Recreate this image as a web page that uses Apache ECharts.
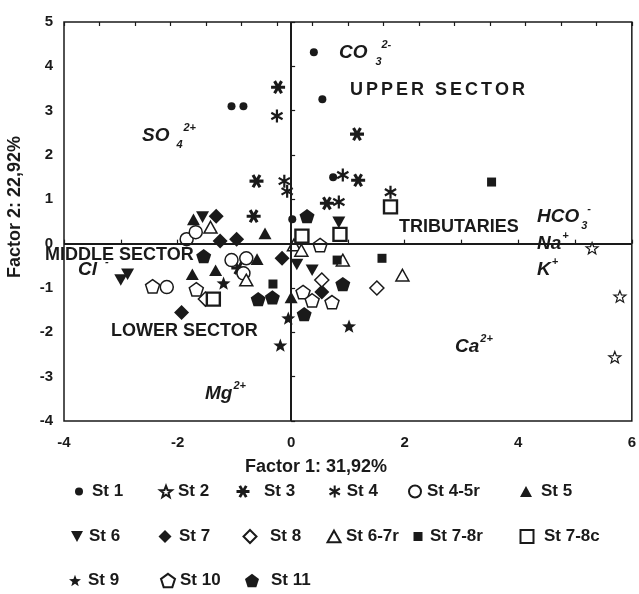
<!DOCTYPE html>
<html>
<head>
<meta charset="utf-8">
<script src="https://cdn.jsdelivr.net/npm/echarts@6/dist/echarts.min.js"></script>
<style>
  html, body { margin: 0; padding: 0; background: #fff; }
  #chart { width: 639px; height: 594px; }
</style>
</head>
<body>
<div id="chart"></div>
<script>
// factor scores: [factor 1, factor 2]
const st1 = [[0.40, 4.32], [0.55, 3.26], [-1.05, 3.10], [-0.84, 3.10], [0.74, 1.50], [0.02, 0.55]]
const st2 = [[5.30, -0.10], [5.79, -1.19], [5.70, -2.56]]
const st3 = [[-0.23, 3.53], [-0.61, 1.41], [1.16, 2.47], [1.18, 1.43], [0.63, 0.91], [-0.66, 0.62], [-0.93, -0.55]]
const st4 = [[-0.25, 2.88], [-0.12, 1.41], [-0.07, 1.18], [0.91, 1.55], [0.84, 0.94], [1.75, 1.16]]
const st45r = [[-1.84, 0.10], [-1.68, 0.26], [-1.05, -0.37], [-0.79, -0.33], [-0.84, -0.67], [-2.19, -0.98]]
const st5 = [[-1.72, 0.55], [-0.46, 0.23], [-0.60, -0.35], [-1.74, -0.69], [-1.33, -0.60], [0.0, -1.21]]
const st6 = [[-1.56, 0.60], [-3.00, -0.82], [-2.88, -0.69], [0.10, -0.47], [0.84, 0.48], [0.37, -0.60]]
const st7 = [[-1.32, 0.62], [-1.25, 0.06], [-0.96, 0.10], [-0.16, -0.33], [-1.93, -1.55], [0.54, -1.09]]
const st8 = [[-1.51, -1.25], [0.54, -0.82], [1.51, -1.00]]
const st67r = [[-1.42, 0.37], [-0.79, -0.82], [0.05, -0.03], [0.18, -0.15], [0.91, -0.37], [1.96, -0.71]]
const st78r = [[3.53, 1.39], [1.60, -0.33], [0.81, -0.37], [-0.32, -0.91]]
const st78c = [[1.75, 0.83], [0.19, 0.17], [0.86, 0.21], [-1.37, -1.25]]
const st9 = [[-1.19, -0.89], [-0.05, -1.68], [1.02, -1.86], [-0.19, -2.29]]
const st10 = [[-2.44, -0.96], [-1.67, -1.03], [0.51, -0.03], [0.21, -1.09], [0.37, -1.28], [0.72, -1.32]]
const st11 = [[-1.54, -0.28], [-0.58, -1.25], [-0.33, -1.21], [0.28, 0.62], [0.91, -0.91], [0.23, -1.59]]

const xTickLabels = [-4, -2, 0, 2, 4, 6]

const FONT = '"Liberation Sans", Arial, sans-serif'
const INK = '#1a1a1a'

// --- marker shapes ---
const toPath = pts => 'M' + pts.map(p => p[0].toFixed(3) + ',' + p[1].toFixed(3)).join('L') + 'Z'
const polygon = (n, r0, r1) => {
  const pts = []
  const k = r1 == null ? n : n * 2
  for (let i = 0; i < k; i++) {
    const a = -Math.PI / 2 + (i * 2 * Math.PI) / k
    const r = r1 == null || i % 2 === 0 ? r0 : r1
    pts.push([r * Math.cos(a), r * Math.sin(a)])
  }
  return 'path://' + toPath(pts)
}
const asterisk = (angles, t) => {
  const parts = angles.map(deg => {
    const a = (deg * Math.PI) / 180
    const dx = Math.cos(a), dy = Math.sin(a)
    const nx = -Math.sin(a) * t, ny = Math.cos(a) * t
    return toPath([[dx + nx, dy + ny], [dx - nx, dy - ny], [-dx - nx, -dy - ny], [-dx + nx, -dy + ny]])
  })
  return 'path://' + parts.join(' ')
}
const STAR = polygon(5, 1, 0.42)
const PENTAGON = polygon(5, 1)
const TRI_UP = 'path://M1,0L2,1.8L0,1.8Z'
const TRI_DOWN = 'path://M0,0L2,0L1,1.8Z'
const AST_H = asterisk([0, 60, 120], 0.22)
const AST_V = asterisk([90, 30, 150], 0.17)

// size: marker on the plot, leg: icon in the legend
const stations = [
  { name: 'St 1', data: st1, symbol: 'circle', size: 8, leg: 8, filled: true },
  { name: 'St 2', data: st2, symbol: STAR, size: 12, leg: 12, filled: false, bw: 1.2 },
  { name: 'St 3', data: st3, symbol: AST_H, size: 14, leg: 13, filled: true },
  { name: 'St 4', data: st4, symbol: AST_V, size: 13, leg: 12, filled: true },
  { name: 'St 4-5r', data: st45r, symbol: 'circle', size: 13, leg: 12, filled: false, bw: 1.5 },
  { name: 'St 5', data: st5, symbol: TRI_UP, size: 13, leg: 12, filled: true },
  { name: 'St 6', data: st6, symbol: TRI_DOWN, size: 13, leg: 12, filled: true },
  { name: 'St 7', data: st7, symbol: 'diamond', size: 15, leg: 13, filled: true },
  { name: 'St 8', data: st8, symbol: 'diamond', size: 14, leg: 13, filled: false, bw: 1.5 },
  { name: 'St 6-7r', data: st67r, symbol: TRI_UP, size: 13, leg: 13, filled: false, bw: 1.5 },
  { name: 'St 7-8r', data: st78r, symbol: 'rect', size: 9, leg: 9, filled: true },
  { name: 'St 7-8c', data: st78c, symbol: 'rect', size: 13, leg: 13, filled: false, bw: 2.4 },
  { name: 'St 9', data: st9, symbol: STAR, size: 14, leg: 12, filled: true },
  { name: 'St 10', data: st10, symbol: PENTAGON, size: 14, leg: 14, filled: false, bw: 1.5 },
  { name: 'St 11', data: st11, symbol: PENTAGON, size: 15, leg: 14, filled: true },
]

// legend layout: [icon centre x, text start x, row centre y]
const legendLayout = [
  [79, 92, 493], [165, 177, 493], [243, 264, 493], [335, 347, 493], [414, 426, 493], [526, 541, 493],
  [77, 89, 538], [165, 179, 538], [249, 269, 538], [333, 345, 538], [418, 430, 538], [526, 543, 538],
  [75, 88, 582], [167, 179, 582], [252, 271, 582],
]

// --- text annotations ---
const measure = document.createElement('canvas').getContext('2d')
const txt = (text, x, y, size, opts = {}) => ({
  type: 'text',
  x, y,
  rotation: opts.rotation || 0,
  style: {
    text,
    font: `${opts.italic ? 'italic ' : ''}bold ${size}px ${FONT}`,
    fill: INK,
    align: opts.align || 'left',
    textAlign: opts.align || 'left',
    verticalAlign: 'middle',
    textVerticalAlign: 'middle',
  },
})
const spaced = (str, x, y, size, gap) => {
  const font = `bold ${size}px ${FONT}`
  measure.font = font
  let cx = x
  return str.split('').map(ch => {
    const el = txt(ch, cx, y, size)
    cx += measure.measureText(ch).width + gap
    return el
  })
}
const ion = (main, x, y, sub, sup, offs) => {
  measure.font = `italic bold 19px ${FONT}`
  const w = measure.measureText(main).width
  const out = [txt(main, x, y, 19, { italic: true })]
  if (sub) out.push(txt(sub, x + w + offs[0], y + 9, 11, { italic: true }))
  if (sup) out.push(txt(sup, x + w + offs[1], y - 8, 11, { italic: true }))
  return out
}

const annotations = [
  ...ion('CO', 339, 53, '3', '2-', [8, 14]),
  ...spaced('UPPER SECTOR', 350, 90, 18, 3),
  ...ion('SO', 142, 136, '4', '2+', [7, 14]),
  ...ion('HCO', 537, 217, '3', '-', [2, 8]),
  ...ion('Na', 537, 244, null, '+', [0, 1]),
  ...ion('K', 537, 270, null, '+', [0, 1]),
  txt('TRIBUTARIES', 399, 227, 18),
  txt('MIDDLE SECTOR', 45, 255, 18),
  ...ion('Cl', 78, 270, null, '-', [0, 8]),
  txt('LOWER SECTOR', 111, 331, 18),
  ...ion('Ca', 455, 347, null, '2+', [1, 1]),
  ...ion('Mg', 205, 394, null, '2+', [1, 1]),
  txt('Factor 1: 31,92%', 316, 467, 18, { align: 'center' }),
  txt('Factor 2: 22,92%', 15, 207, 18, { align: 'center', rotation: Math.PI / 2 }),
]

const chart = echarts.init(document.getElementById('chart'), null, { renderer: 'canvas' })

const series = [
  {
    // cross lines through the origin
    type: 'scatter',
    data: [],
    silent: true,
    z: 1,
    markLine: {
      silent: true,
      symbol: 'none',
      label: { show: false },
      lineStyle: { color: INK, width: 2, type: 'solid' },
      data: [{ yAxis: 0 }, { xAxis: 0 }],
    },
  },
  ...stations.map(s => ({
    name: s.name,
    type: 'scatter',
    data: s.data,
    symbol: s.symbol,
    symbolSize: s.size,
    symbolKeepAspect: true,
    z: 3,
    itemStyle: s.filled
      ? { color: INK, opacity: 1 }
      : { color: '#fff', borderColor: INK, borderWidth: s.bw || 1.8, opacity: 1 },
  })),
]

const legends = stations.map((s, i) => {
  const [iconX, textX, rowY] = legendLayout[i]
  const w = s.leg
  return {
    data: [s.name],
    left: iconX - w / 2,
    top: rowY - 10,
    itemWidth: w,
    itemHeight: w,
    symbolKeepAspect: true,
    padding: 0,
    selectedMode: false,
    textStyle: {
      fontFamily: FONT, fontWeight: 'bold', fontSize: 17, color: INK,
      padding: [0, 0, 0, Math.max(0, textX - iconX - w / 2 - 5)],
    },
  }
})

chart.setOption({
  animation: false,
  backgroundColor: '#fff',
  grid: {
    show: true,
    left: 64, right: 5, top: 22, bottom: 173,
    borderColor: INK, borderWidth: 1.5,
    backgroundColor: 'transparent',
  },
  xAxis: [
    {
      type: 'value',
      min: -4, max: 6, interval: 1,
      axisLine: { show: false },
      axisTick: { show: true, inside: true, length: 4, lineStyle: { color: INK, width: 1.2 } },
      axisLabel: {
        margin: 14,
        fontFamily: FONT, fontWeight: 'bold', fontSize: 15, color: INK,
        formatter: v => (xTickLabels.includes(v) ? String(v) : ''),
      },
      splitLine: { show: false },
    },
    {
      type: 'value',
      position: 'top',
      min: -4, max: 6, interval: 0.625,
      axisLine: { show: false },
      axisTick: { show: true, inside: true, length: 4, lineStyle: { color: INK, width: 1.2 } },
      axisLabel: { show: false },
      splitLine: { show: false },
    },
  ],
  yAxis: {
    type: 'value',
    min: -4, max: 5, interval: 1,
    axisLine: { show: false },
    axisTick: { show: true, inside: true, length: 4, lineStyle: { color: INK, width: 1.2 } },
    axisLabel: { margin: 11, fontFamily: FONT, fontWeight: 'bold', fontSize: 15, color: INK },
    splitLine: { show: false },
  },
  legend: legends,
  graphic: { elements: annotations },
  series,
})
</script>
</body>
</html>
